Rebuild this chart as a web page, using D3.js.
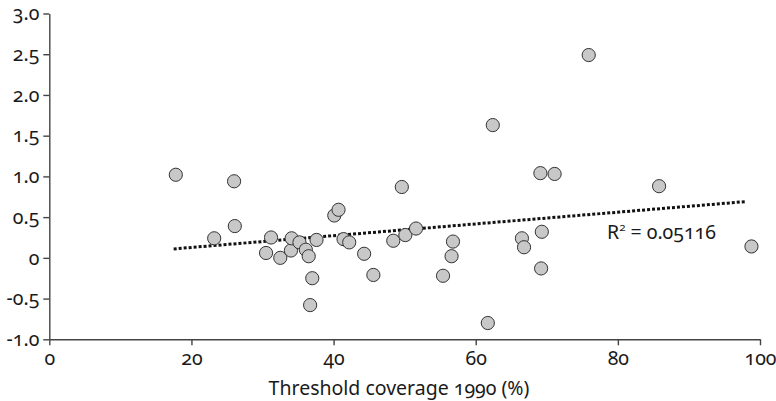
<!DOCTYPE html>
<html>
<head>
<meta charset="utf-8">
<script src="https://cdn.jsdelivr.net/npm/d3@7"></script>
<style>
    body { margin: 0; background: #fff; }
    text { font-family: "Noto Sans", "Open Sans", sans-serif; font-feature-settings: "onum" 1; fill: #1a1a1a; }
</style>
</head>
<body>
<script>
// data
var coverage = [17.8, 23.2, 26.0, 26.1, 30.5, 31.2, 32.5, 34.0, 34.1, 35.2,
    36.1, 36.5, 36.7, 37.0, 37.6, 40.1, 40.7, 41.4, 42.2, 44.3,
    45.6, 48.4, 49.6, 50.1, 51.6, 55.4, 56.6, 56.8, 61.7, 62.4,
    66.5, 66.8, 69.1, 69.2, 69.3, 71.1, 75.9, 85.8, 98.8];
var change = [1.02, 0.24, 0.94, 0.39, 0.06, 0.25, 0.00, 0.09, 0.24, 0.19,
    0.10, 0.02, -0.58, -0.25, 0.22, 0.52, 0.59, 0.23, 0.19, 0.05,
    -0.21, 0.21, 0.87, 0.28, 0.36, -0.22, 0.02, 0.20, -0.80, 1.63,
    0.24, 0.13, 1.04, -0.13, 0.32, 1.03, 2.49, 0.88, 0.14];
var trendX = [17.5, 97.9];
var trendY = [0.11, 0.69];
var xTicks = [0, 20, 40, 60, 80, 100];
var yTicks = [-1, -0.5, 0, 0.5, 1, 1.5, 2, 2.5, 3];
var yTickLabels = ['-1.0', '-0.5', '0', '0.5', '1.0', '1.5', '2.0', '2.5', '3.0'];
var xTitle = 'Threshold coverage 1990 (%)';
var rSquared = '0.05116';

window.onload = function () {
    draw();
};

function draw() {
    var width = 776,
        height = 401;
    var margin = {left: 49.3, top: 13.5, right: 16, bottom: 61.7};

    var x = d3.scaleLinear().domain([0, 100]).range([margin.left, width - margin.right]);
    var y = d3.scaleLinear().domain([-1, 3]).range([height - margin.bottom, margin.top]);

    var svg = d3.select('body').append('svg')
        .attr('width', width)
        .attr('height', height);

    // x axis
    svg.append('g')
        .attr('transform', 'translate(0,' + y(-1) + ')')
        .call(d3.axisBottom(x).tickValues(xTicks).tickSize(6).tickPadding(6).tickSizeOuter(0));

    // y axis
    svg.append('g')
        .attr('transform', 'translate(' + x(0) + ',0)')
        .call(d3.axisLeft(y).tickValues(yTicks).tickSize(6).tickPadding(4).tickSizeOuter(0)
            .tickFormat(function (d, i) { return yTickLabels[i]; }));

    svg.selectAll('.domain, .tick line')
        .attr('stroke', '#444')
        .attr('stroke-width', 1.4);
    svg.selectAll('.tick text')
        .style('font-size', '19.5px')
        .attr('fill', '#1a1a1a');

    // trend line
    svg.append('line')
        .attr('x1', x(trendX[0]))
        .attr('y1', y(trendY[0]))
        .attr('x2', x(trendX[1]))
        .attr('y2', y(trendY[1]))
        .attr('stroke', '#111')
        .attr('stroke-width', 3)
        .attr('stroke-dasharray', '3,2');

    // points
    svg.selectAll('.dot')
        .data(coverage)
        .enter().append('circle')
        .attr('class', 'dot')
        .attr('cx', function (d) { return x(d); })
        .attr('cy', function (d, i) { return y(change[i]); })
        .attr('r', 6.6)
        .attr('fill', '#c8c8c8')
        .attr('stroke', '#333')
        .attr('stroke-width', 1);

    // R squared label
    var r2 = svg.append('text')
        .attr('x', 607)
        .attr('y', 239)
        .style('font-size', '19.5px');
    r2.append('tspan').text('R');
    r2.append('tspan').attr('dy', -8).style('font-size', '11.5px').text('2');
    r2.append('tspan').attr('dy', 8).text(' = ' + rSquared);

    // x title
    svg.append('text')
        .attr('x', 399)
        .attr('y', 395)
        .attr('text-anchor', 'middle')
        .style('font-size', '19.5px')
        .text(xTitle);
}
</script>
</body>
</html>
